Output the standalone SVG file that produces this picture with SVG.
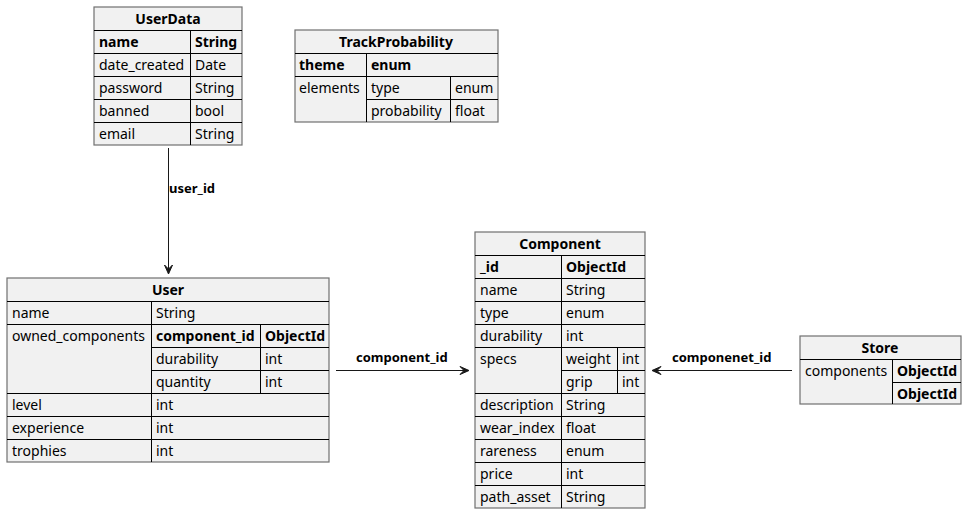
<svg xmlns="http://www.w3.org/2000/svg" width="967" height="514" viewBox="0 0 967 514">
<style>
text{font-family:"Noto Sans","Open Sans","DejaVu Sans",sans-serif;font-size:14px;fill:#000}
.b{font-weight:bold}
.t{font-weight:bold;text-anchor:middle}
.lbl{font-weight:bold;font-size:13px}
.box{fill:#F1F1F1;stroke:#707070;stroke-width:1.2}
.ln{stroke:#000;stroke-width:1;fill:none}
.edge{stroke:#181818;stroke-width:1;fill:none}
.ah{fill:#181818;stroke:#181818;stroke-width:1}
</style>
<rect width="967" height="514" fill="#fff"/>
<g id="UserData">
<rect class="box" x="94" y="7" width="148" height="138"/>
<path class="ln" d="M94 30.5H242M94 53.5H242M94 76.5H242M94 99.5H242M94 122.5H242M190.5 30V145"/>
<text class="t" x="168" y="24">UserData</text>
<text class="b" x="99" y="47">name</text><text class="b" x="195" y="47">String</text>
<text x="99" y="70">date_created</text><text x="195" y="70">Date</text>
<text x="99" y="93">password</text><text x="195" y="93">String</text>
<text x="99" y="116">banned</text><text x="195" y="116">bool</text>
<text x="99" y="139">email</text><text x="195" y="139">String</text>
</g>
<g id="TrackProbability">
<rect class="box" x="295" y="30" width="203" height="92"/>
<path class="ln" d="M295 53.5H498M295 76.5H498M366 99.5H498M366.5 53V122M450.5 76V122"/>
<text class="t" x="396" y="47">TrackProbability</text>
<text class="b" x="299" y="70">theme</text><text class="b" x="371" y="70">enum</text>
<text x="299" y="93">elements</text><text x="371" y="93">type</text><text x="455" y="93">enum</text>
<text x="371" y="116">probability</text><text x="455" y="116">float</text>
</g>
<g id="User">
<rect class="box" x="7" y="278" width="322" height="184"/>
<path class="ln" d="M7 301.5H329M7 324.5H329M151 347.5H329M151 370.5H329M7 393.5H329M7 416.5H329M7 439.5H329M151.5 301V462M260.5 324V393"/>
<text class="t" x="168" y="295">User</text>
<text x="12" y="318">name</text><text x="156" y="318">String</text>
<text x="12" y="341">owned_components</text><text class="b" x="156" y="341">component_id</text><text class="b" x="265" y="341">ObjectId</text>
<text x="156" y="364">durability</text><text x="265" y="364">int</text>
<text x="156" y="387">quantity</text><text x="265" y="387">int</text>
<text x="12" y="410">level</text><text x="156" y="410">int</text>
<text x="12" y="433">experience</text><text x="156" y="433">int</text>
<text x="12" y="456">trophies</text><text x="156" y="456">int</text>
</g>
<g id="Component">
<rect class="box" x="475" y="232" width="170" height="276"/>
<path class="ln" d="M475 255.5H645M475 278.5H645M475 301.5H645M475 324.5H645M475 347.5H645M561 370.5H645M475 393.5H645M475 416.5H645M475 439.5H645M475 462.5H645M475 485.5H645M561.5 255V508M617.5 347V393"/>
<text class="t" x="560" y="249">Component</text>
<text class="b" x="480" y="272">_id</text><text class="b" x="566" y="272">ObjectId</text>
<text x="480" y="295">name</text><text x="566" y="295">String</text>
<text x="480" y="318">type</text><text x="566" y="318">enum</text>
<text x="480" y="341">durability</text><text x="566" y="341">int</text>
<text x="480" y="364">specs</text><text x="566" y="364">weight</text><text x="622" y="364">int</text>
<text x="566" y="387">grip</text><text x="622" y="387">int</text>
<text x="480" y="410">description</text><text x="566" y="410">String</text>
<text x="480" y="433">wear_index</text><text x="566" y="433">float</text>
<text x="480" y="456">rareness</text><text x="566" y="456">enum</text>
<text x="480" y="479">price</text><text x="566" y="479">int</text>
<text x="480" y="502">path_asset</text><text x="566" y="502">String</text>
</g>
<g id="Store">
<rect class="box" x="800" y="336" width="161" height="68"/>
<path class="ln" d="M800 359.5H961M892 382.5H961M892.5 359V404"/>
<text class="t" x="880" y="353">Store</text>
<text x="805" y="376">components</text><text class="b" x="897" y="376">ObjectId</text>
<text class="b" x="897" y="399">ObjectId</text>
</g>
<g id="connectors">
<path class="edge" d="M168.5 148V270"/>
<polygon class="ah" points="164.5,265 168.5,274 172.5,265 168.5,269"/>
<text class="lbl" x="169" y="193">user_id</text>
<path class="edge" d="M336 370.5H465"/>
<polygon class="ah" points="460,366.5 469,370.5 460,374.5 464,370.5"/>
<text class="lbl" x="356" y="362">component_id</text>
<path class="edge" d="M792 370.5H655"/>
<polygon class="ah" points="661,366.5 652,370.5 661,374.5 657,370.5"/>
<text class="lbl" x="672" y="362">componenet_id</text>
</g>
</svg>
